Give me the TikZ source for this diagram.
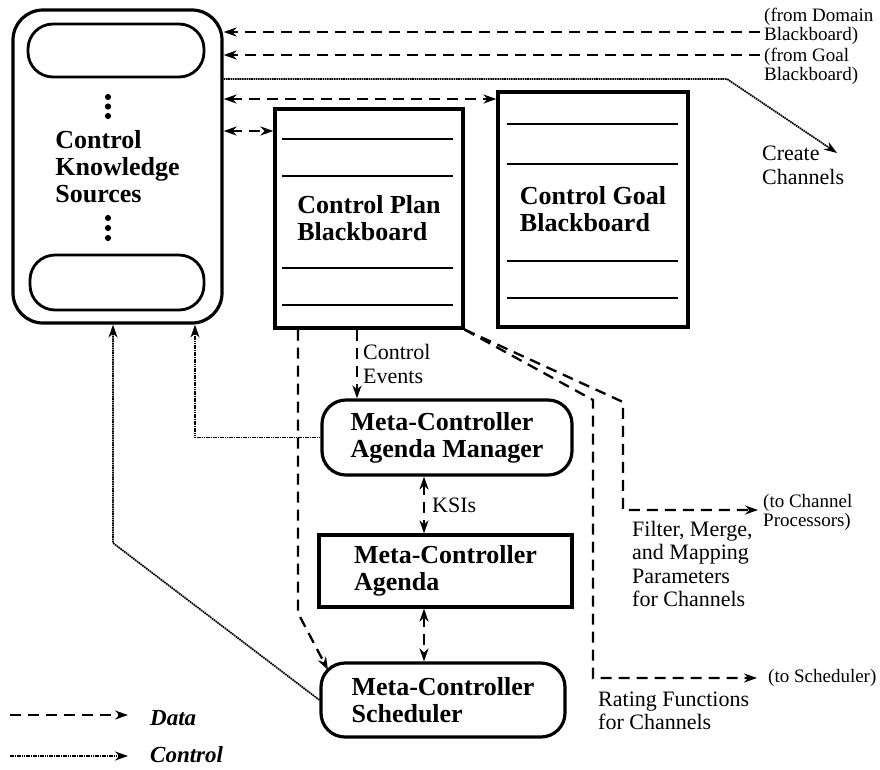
\documentclass[tikz,border=0pt]{standalone}
\usepackage{fontspec}
\setmainfont{Liberation Serif}
\usetikzlibrary{arrows.meta,calc}
\newcommand\fbig{\fontsize{26}{27}\selectfont\bfseries}
\newcommand\fmid{\fontsize{22}{23.5}\selectfont}
\newcommand\fsml{\fontsize{19}{19}\selectfont}
\newcommand\flgd{\fontsize{23}{24}\selectfont\bfseries\itshape}
\begin{document}
\begin{tikzpicture}[x=1pt,y=-1pt,
  bx/.style={draw,line width=3.2pt,inner sep=0pt,align=left,font=\fbig},
  rbox/.style={bx,rounded corners=24pt},
  pill/.style={draw,line width=2.8pt,rounded corners=25pt,inner sep=0pt},
  rule/.style={line width=2.6pt},
  tip/.tip={Stealth[length=13pt,width=9pt]},
  data/.style={line width=2.3pt,dash pattern=on 11pt off 7pt,-tip},
  data2/.style={line width=2.3pt,dash pattern=on 11pt off 7pt,tip-tip},
  ctrl/.style={line width=1.7pt,dash pattern=on 1.6pt off 0.7pt,-tip},
  lbl/.style={inner sep=0pt,align=left,anchor=west}]
\useasboundingbox (0,0) rectangle (880,769);

% Control knowledge sources
\node[rbox,rounded corners=30pt,minimum width=209pt,minimum height=313pt] (cks) at (117.5,166.5) {Control\\Knowledge\\Sources};
\node[pill,minimum width=176pt,minimum height=53pt] (ks1) at (116,50.5) {};
\node[pill,minimum width=174pt,minimum height=55pt] (ks2) at (117,282.5) {};
\foreach \y in {97,106.5,116,218,228,238} \fill (108,\y) circle (3.1pt);

% blackboards
\node[bx,minimum width=188pt,minimum height=219pt] (plan) at (369,218.5) {Control Plan\\Blackboard};
\foreach \y in {139,176,268,305} \draw[rule] (282,\y) -- (453,\y);
\node[bx,minimum width=190pt,minimum height=235pt] (goal) at (593,209.5) {Control Goal\\Blackboard};
\foreach \y in {124,164,261,298} \draw[rule] (507,\y) -- (678,\y);

% meta-controller
\node[rbox,minimum width=250pt,minimum height=75pt] (mgr) at (447,437.5) {Meta-Controller\\Agenda Manager};
\node[bx,minimum width=253pt,minimum height=72pt] (agd) at (445.5,571) {Meta-Controller\\Agenda};
\node[rbox,minimum width=244pt,minimum height=74pt] (sch) at (443,700) {Meta-Controller\\Scheduler};

% top-right inputs
\coordinate (fromDom) at (760,32);
\coordinate (fromGoal) at (760,55);
\draw[data] (fromDom) -- (fromDom -| cks.east);
\draw[data] (fromGoal) -- (fromGoal -| cks.east);
\node[lbl,font=\fsml] (domL) at (764,26.5) {(from Domain\\Blackboard)};
\node[lbl,font=\fsml] (goalL) at (764,66.5) {(from Goal\\Blackboard)};

\coordinate (bend) at (727,79);
\coordinate (cc) at (837,153);
\draw[ctrl] (cks.east |- bend) -- (bend) -- (cc);
\node[lbl,font=\fmid] (ccL) at (762,165.5) {Create\\Channels};

\draw[data2] (cks.east |- 0,99) -- (goal.west |- 0,99);
\draw[data2] (cks.east |- 0,131) -- (plan.west |- 0,131);

% control events
\draw[data] (plan.south -| 357,0) -- (mgr.north -| 357,0);
\node[lbl,font=\fmid] (ceL) at (363,364) {Control\\Events};

% KSIs
\draw[data2] (mgr.south -| 424,0) -- (agd.north -| 424,0);
\node[lbl,font=\fmid] (ksiL) at (432,505) {KSIs};
\draw[data2] (agd.south -| 424,0) -- (sch.north -| 424,0);

% plan to scheduler
\coordinate (schTL) at (328,670);
\draw[data] (plan.south -| 298,0) -- (298,613) -- (schTL);

% outputs to channels
\coordinate (toSch) at (757,678);
\coordinate (toCP) at (758,510);
\draw[data] (plan.south east) -- (593,400) -- (593,678) -- (toSch);
\draw[data] (plan.south east) -- (623,402) -- (623,510) -- (toCP);
\node[lbl,font=\fsml] (cpL) at (763,512) {(to Channel\\Processors)};
\node[lbl,font=\fsml] (schL) at (768,678) {(to Scheduler)};
\node[lbl,font=\fmid] (fmL) at (632,564) {Filter, Merge,\\and Mapping\\Parameters\\for Channels};
\node[lbl,font=\fmid] (rfL) at (598,711) {Rating Functions\\for Channels};

% control into knowledge sources
\draw[ctrl] (mgr.west) -- (mgr.west -| 195,0) -- (cks.south -| 195,0);
\draw[ctrl] (sch.west) -- (113,543) -- (cks.south -| 113,0);

% legend
\coordinate (lgA) at (10,715);
\coordinate (lgB) at (128,715);
\coordinate (lgC) at (10,756);
\coordinate (lgD) at (128,756);
\draw[data] (lgA) -- (lgB);
\draw[ctrl] (lgC) -- (lgD);
\node[lbl,font=\flgd] (dataL) at (150,718) {Data};
\node[lbl,font=\flgd] (ctrlL) at (150,755) {Control};
\end{tikzpicture}
\end{document}
